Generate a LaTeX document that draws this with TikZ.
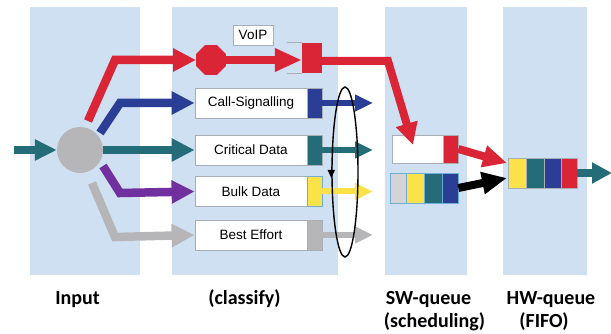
\documentclass[tikz,border=0pt]{standalone}
\usepackage{fontspec}
\setmainfont{Liberation Sans}
\newfontfamily\capfont{Carlito}
\usetikzlibrary{arrows.meta,shapes.geometric}

\definecolor{colbg}{RGB}{206,224,242}
\definecolor{qred}{RGB}{218,37,54}
\definecolor{qblue}{RGB}{43,62,150}
\definecolor{qteal}{RGB}{35,108,120}
\definecolor{qpurple}{RGB}{112,48,160}
\definecolor{qgray}{RGB}{182,182,184}
\definecolor{qyellow}{RGB}{250,226,72}
\definecolor{qlight}{RGB}{212,212,214}
\definecolor{boxline}{RGB}{168,174,180}
\definecolor{cellline}{RGB}{110,175,215}

\tikzset{
  column/.style={fill=colbg,draw=none},
  bigarrow/.style={line width=8.5pt,line join=miter,-{Triangle[length=23pt,width=22pt]}},
  smallarrow/.style={line width=6pt,-{Triangle[length=18pt,width=16pt]}},
  clsbox/.style={draw=boxline,line width=0.8pt,fill=white,inner sep=0pt,
    minimum width=112pt,minimum height=30pt,font=\fontsize{13.5}{15}\selectfont},
  blk/.style={draw=boxline,line width=0.8pt,inner sep=0pt,minimum width=15pt,minimum height=30pt},
  cell/.style={draw=cellline,line width=0.8pt,inner sep=0pt,minimum width=17pt,minimum height=30pt},
  caption/.style={font=\capfont\bfseries\fontsize{20}{23}\selectfont,inner sep=0pt,anchor=base},
}

\begin{document}
\begin{tikzpicture}[x=1pt,y=-1pt]
\useasboundingbox (0,0) rectangle (611,334);

% stage columns
\fill[column] (30,7) rectangle (140,275);
\fill[column] (172,7) rectangle (338,275);
\fill[column] (385,7) rectangle (467,275);
\fill[column] (503,7) rectangle (587,275);

% input and classifier
\node[circle,fill=qgray,minimum size=46pt,inner sep=0pt] (cls) at (80,150) {};
\coordinate (in) at (14,150);
\draw[bigarrow,qteal,-{Triangle[length=22pt,width=20pt]}] (in) -- (cls.west);

% start and bend points of the class arrows
\coordinate (rs) at (88,121);  \coordinate (rb) at (115,60);
\coordinate (bs) at (100,133); \coordinate (bb) at (120,103);
\coordinate (ps) at (103,166); \coordinate (pb) at (120,193);
\coordinate (gs) at (92,183);  \coordinate (gb) at (115,237);

% VoIP branch
\node[regular polygon,regular polygon sides=8,fill=qred,minimum size=32pt,inner sep=0pt] (stop) at (211,60) {};
\node[draw=boxline,line width=0.8pt,fill=white,minimum width=40pt,minimum height=20pt,inner sep=0pt,
      font=\fontsize{13.5}{15}\selectfont] (voip) at (253,35) {VoIP};
\node[fill=qred,minimum width=20pt,minimum height=30pt,inner sep=0pt] (vq) at (312,58) {};
\draw[boxline,line width=0.8pt] (vq.north west) -- ++(-15,0);
\draw[boxline,line width=0.8pt] (vq.south west) -- ++(-15,0);

% class boxes
\node[clsbox] (cs) at (251,103) {Call-Signalling};
\node[clsbox] (cd) at (251,150) {Critical Data};
\node[clsbox] (bd) at (251,191.5) {Bulk Data};
\node[clsbox] (be) at (251,235) {Best Effort};
\node[blk,fill=qblue] (csq) at (314.5,103) {};
\node[blk,fill=qteal] (cdq) at (314.5,150) {};
\node[blk,fill=qyellow,draw=cellline] (bdq) at (314.5,191.5) {};
\node[blk,fill=qgray] (beq) at (314.5,235) {};

% arrows from the classifier
\draw[bigarrow,qred] (rs) -- (rb) -- (stop.west);
\draw[bigarrow,qblue] (bs) -- (bb) -- (cs.west);
\draw[bigarrow,qteal] (cls.east) -- (cd.west);
\draw[bigarrow,qpurple] (ps) -- (pb) -- (bd.west);
\draw[bigarrow,qgray] (gs) -- (gb) -- (be.west);
\draw[bigarrow,qred,-{Triangle[length=27pt,width=22pt]}] (stop.east) -- (vq.west |- stop.east);

% outputs of the class queues
\coordinate (o1) at (373,103);
\coordinate (o2) at (373,150);
\coordinate (o3) at (373,191.5);
\coordinate (o4) at (373,235);
\draw[smallarrow,qblue] (csq.east) -- (o1);
\draw[smallarrow,qteal] (cdq.east) -- (o2);
\draw[smallarrow,qyellow] (bdq.east) -- (o3);
\draw[smallarrow,qgray] (beq.east) -- (o4);

% round-robin scheduler
\node[draw=black,line width=1.4pt,ellipse,minimum width=26pt,minimum height=170pt,inner sep=0pt] (rr) at (345,172) {};
\draw[black,line width=1.2pt,-{Triangle[length=8pt,width=7pt]}] ([yshift=6pt]rr.west) -- ([yshift=-6pt]rr.west);

% software queue
\node[draw=boxline,line width=0.8pt,fill=white,minimum width=51pt,minimum height=28pt,inner sep=0pt] (pq) at (417.5,149) {};
\node[draw=boxline,line width=0.8pt,fill=qred,minimum width=15pt,minimum height=28pt,inner sep=0pt] (pqr) at (450.5,149) {};
\node[cell,fill=qlight,minimum width=16pt] (s1) at (398,188) {};
\node[cell,fill=qyellow,minimum width=18pt] (s2) at (415,188) {};
\node[cell,fill=qteal,minimum width=18pt] (s3) at (433,188) {};
\node[cell,fill=qblue,minimum width=16pt] (s4) at (450,188) {};

% red path into the priority queue
\coordinate (vqo) at (322,61);
\coordinate (rt) at (388,61);
\coordinate (rh) at (413,145);
\draw[bigarrow,qred,line width=8pt,-{Triangle[length=22pt,width=21pt]}] (vqo) -- (rt) -- (rh);

% hardware queue
\node[draw=boxline,line width=0.8pt,fill=qyellow,minimum width=18pt,minimum height=30pt,inner sep=0pt] (h1) at (517,173) {};
\node[draw=boxline,line width=0.8pt,fill=qteal,minimum width=18pt,minimum height=30pt,inner sep=0pt] (h2) at (535,173) {};
\node[draw=boxline,line width=0.8pt,fill=qblue,minimum width=17pt,minimum height=30pt,inner sep=0pt] (h3) at (552.5,173) {};
\node[draw=boxline,line width=0.8pt,fill=qred,minimum width=16pt,minimum height=30pt,inner sep=0pt] (h4) at (569,173) {};

\coordinate (hin1) at (507,163);
\coordinate (hin2) at (507,178);
\draw[bigarrow,qred,line width=8pt,-{Triangle[length=24pt,width=21pt]}] (pqr.east) -- (hin1);
\draw[bigarrow,black,line width=8pt,-{Triangle[length=25pt,width=21pt]}] (s4.east) -- (hin2);

\coordinate (out) at (612,173);
\draw[bigarrow,qteal,-{Triangle[length=20pt,width=20pt]}] (h4.east) -- (out);

% stage captions
\node[caption] (l1) at (77.5,304) {Input};
\node[caption] (l2) at (244.5,304) {(classify)};
\node[caption] (l3) at (428.5,304) {SW-queue};
\node[caption] (l4) at (434.5,327) {(scheduling)};
\node[caption] (l5) at (551,304) {HW-queue};
\node[caption] (l6) at (544,327) {(FIFO)};
\end{tikzpicture}
\end{document}
